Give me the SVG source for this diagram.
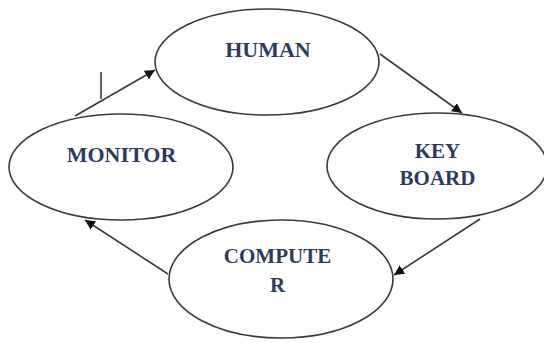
<svg xmlns="http://www.w3.org/2000/svg" width="544" height="343" viewBox="0 0 544 343">
<defs>
<style>
.node ellipse{fill:#ffffff;stroke:#3a3a3a;stroke-width:1.6}
.node text{font-family:"Liberation Serif","Times New Roman",serif;font-weight:bold;font-size:21px;fill:#2e3b60;text-anchor:middle}
.conn line{stroke:#3a3a3a;stroke-width:1.6}
</style>
<marker id="arr" viewBox="0 0 10 10" refX="10" refY="5" markerWidth="10" markerHeight="10" markerUnits="userSpaceOnUse" orient="auto">
<path d="M0,0 L10,5 L0,10 z" fill="#111"/>
</marker>
</defs>
<rect width="544" height="343" fill="#ffffff"/>
<g id="connectors" class="conn">
<line x1="75" y1="116" x2="155" y2="70" marker-end="url(#arr)"/>
<line x1="101" y1="72" x2="101" y2="99"/>
<line x1="380" y1="54" x2="462" y2="113" marker-end="url(#arr)"/>
<line x1="480" y1="219" x2="394" y2="275" marker-end="url(#arr)"/>
<line x1="168" y1="274" x2="85" y2="220" marker-end="url(#arr)"/>
</g>
<g id="human" class="node">
<ellipse cx="267" cy="62" rx="112" ry="53"/>
<text x="268" y="57" style="font-size:22px">HUMAN</text>
</g>
<g id="monitor" class="node">
<ellipse cx="121" cy="167" rx="112" ry="53"/>
<text x="121.5" y="162" style="font-size:22px">MONITOR</text>
</g>
<g id="keyboard" class="node">
<ellipse cx="437" cy="166" rx="110" ry="53"/>
<text x="437.5" y="158">KEY</text>
<text x="437.5" y="185">BOARD</text>
</g>
<g id="computer" class="node">
<ellipse cx="281" cy="279" rx="112" ry="59"/>
<text x="277.5" y="263">COMPUTE</text>
<text x="277.5" y="292">R</text>
</g>
</svg>
